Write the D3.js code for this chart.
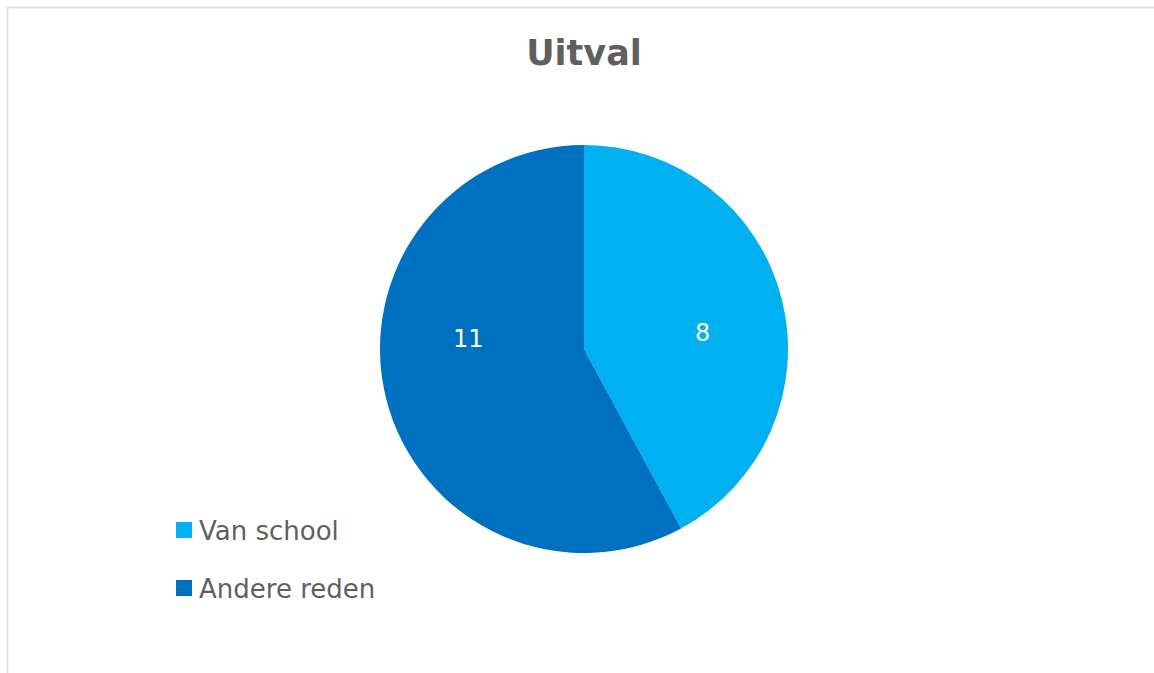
<!DOCTYPE html>
<html>
<head>
<meta charset="utf-8">
<script src="https://cdn.jsdelivr.net/npm/d3@7"></script>
<style>
  body { margin: 0; background: #fff; }
  svg { display: block; font-family: "DejaVu Sans", Verdana, sans-serif; }
</style>
</head>
<body>
<div id="chart"></div>
<script>
// Data
const categories = ['Van school', 'Andere reden'];
const values = [8, 11];
const colors = ['#00B0F0', '#0070C0'];
const title = 'Uitval';

const width = 1154;
const height = 673;

const svg = d3.select('#chart')
  .append('svg')
    .attr('width', width)
    .attr('height', height);

// Chart border (light gray frame)
svg.append('path')
  .attr('d', `M7.5,${height} V7.5 H${width}`)
  .attr('fill', 'none')
  .attr('stroke', '#e3e3e3')
  .attr('stroke-width', 2);

// Title
svg.append('text')
  .attr('x', 584)
  .attr('y', 65)
  .attr('text-anchor', 'middle')
  .attr('fill', '#5f5f5f')
  .style('font-size', '35px')
  .style('font-weight', 700)
  .text(title);

// Pie
const cx = 584, cy = 349, radius = 204;
const pie = d3.pie().sort(null).value(d => d);
const arc = d3.arc().innerRadius(0).outerRadius(radius);
const labelArc = d3.arc().innerRadius(radius * 0.6).outerRadius(radius * 0.6);
const color = d3.scaleOrdinal().domain(categories).range(colors);
// Excel nudges the data labels away from the plain centroid
const labelNudge = [[0, 14], [3, -40]];

const pieGroup = svg.append('g')
  .attr('transform', `translate(${cx},${cy})`);

const arcs = pie(values);
pieGroup.selectAll('path')
  .data(arcs)
  .join('path')
    .attr('d', arc)
    .attr('fill', (d, i) => color(categories[i]));

pieGroup.selectAll('text')
  .data(arcs)
  .join('text')
    .attr('transform', (d, i) => {
      const [x, y] = labelArc.centroid(d);
      return `translate(${x + labelNudge[i][0]},${y + labelNudge[i][1]})`;
    })
    .attr('text-anchor', 'middle')
    .attr('dy', '0.35em')
    .attr('fill', '#fff')
    .style('font-size', '24px')
    .text(d => d.data);

// Legend
const legend = svg.append('g')
  .attr('transform', 'translate(176,522)')
  .selectAll('g')
  .data(categories)
  .join('g')
    .attr('transform', (d, i) => `translate(0,${i * 58})`);
legend.append('rect')
  .attr('width', 16)
  .attr('height', 16)
  .attr('fill', d => color(d));
legend.append('text')
  .attr('x', 23)
  .attr('y', 18)
  .attr('fill', '#5f5f5f')
  .style('font-size', '26px')
  .text(d => d);
</script>
</body>
</html>
